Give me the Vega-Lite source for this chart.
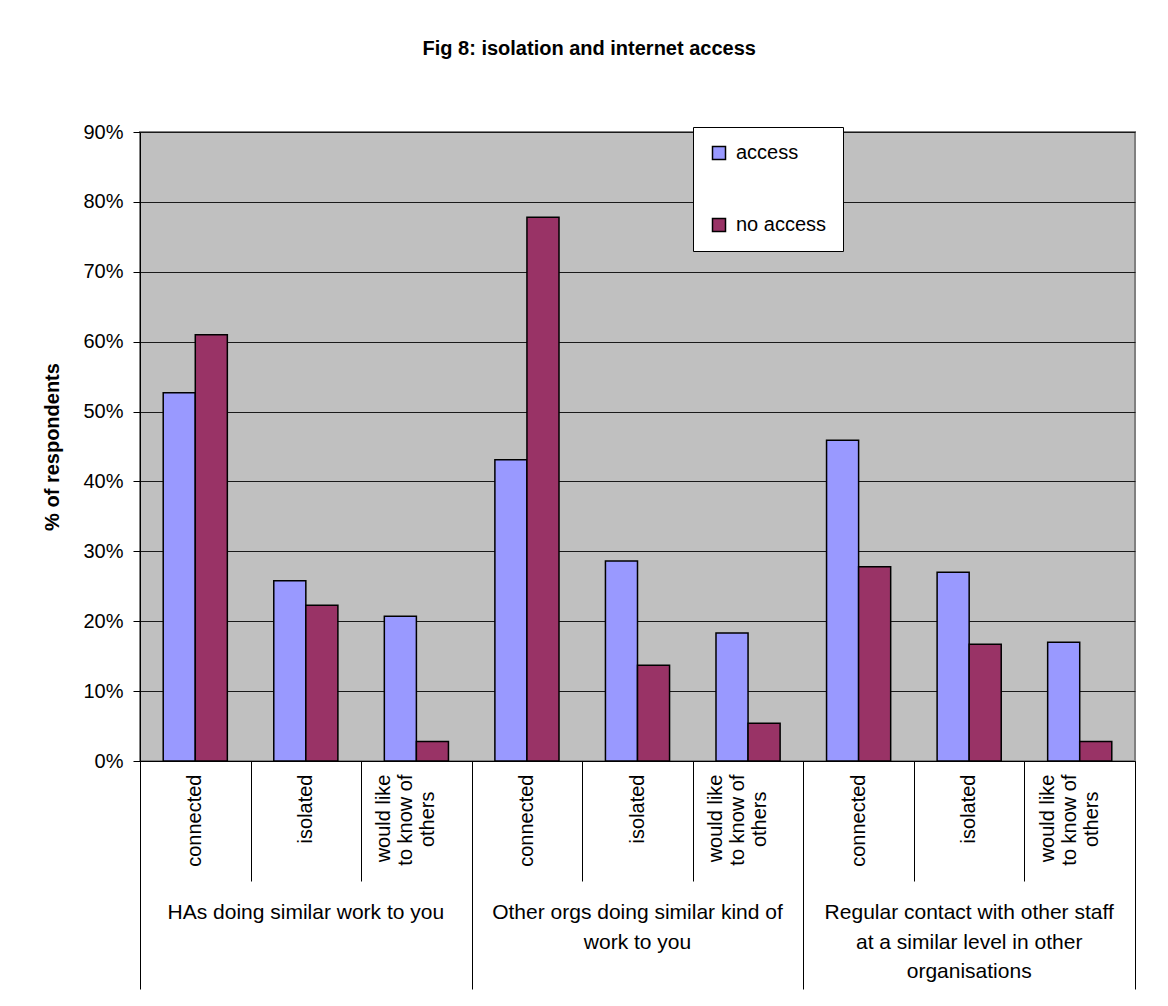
{
  "$schema": "https://vega.github.io/schema/vega-lite/v6.json",
  "autosize": {"type": "none"},
  "width": 995,
  "height": 629,
  "padding": {"left": 140, "top": 132, "right": 33, "bottom": 245},
  "background": "white",
  "title": {
    "text": "Fig 8: isolation and internet access",
    "font": "Liberation Sans",
    "fontSize": 20,
    "fontWeight": "bold",
    "color": "black",
    "anchor": "middle",
    "frame": "bounds",
    "offset": 63
  },
  "config": {
    "font": "Liberation Sans",
    "view": {"fill": "#C0C0C0", "stroke": "#808080", "strokeWidth": 2}
  },
  "data": {
    "values": [
      {"group": "HAs doing similar work to you", "cat": "A connected", "series": "access", "value": 0.527},
      {"group": "HAs doing similar work to you", "cat": "A connected", "series": "no access", "value": 0.61},
      {"group": "HAs doing similar work to you", "cat": "A isolated", "series": "access", "value": 0.258},
      {"group": "HAs doing similar work to you", "cat": "A isolated", "series": "no access", "value": 0.223},
      {"group": "HAs doing similar work to you", "cat": "A would", "series": "access", "value": 0.207},
      {"group": "HAs doing similar work to you", "cat": "A would", "series": "no access", "value": 0.028},
      {"group": "Other orgs doing similar kind of work to you", "cat": "B connected", "series": "access", "value": 0.431},
      {"group": "Other orgs doing similar kind of work to you", "cat": "B connected", "series": "no access", "value": 0.778},
      {"group": "Other orgs doing similar kind of work to you", "cat": "B isolated", "series": "access", "value": 0.286},
      {"group": "Other orgs doing similar kind of work to you", "cat": "B isolated", "series": "no access", "value": 0.137},
      {"group": "Other orgs doing similar kind of work to you", "cat": "B would", "series": "access", "value": 0.183},
      {"group": "Other orgs doing similar kind of work to you", "cat": "B would", "series": "no access", "value": 0.054},
      {"group": "Regular contact with other staff at a similar level in other organisations", "cat": "C connected", "series": "access", "value": 0.459},
      {"group": "Regular contact with other staff at a similar level in other organisations", "cat": "C connected", "series": "no access", "value": 0.278},
      {"group": "Regular contact with other staff at a similar level in other organisations", "cat": "C isolated", "series": "access", "value": 0.27},
      {"group": "Regular contact with other staff at a similar level in other organisations", "cat": "C isolated", "series": "no access", "value": 0.167},
      {"group": "Regular contact with other staff at a similar level in other organisations", "cat": "C would", "series": "access", "value": 0.17},
      {"group": "Regular contact with other staff at a similar level in other organisations", "cat": "C would", "series": "no access", "value": 0.028}
    ]
  },
  "layer": [
    {
      "mark": {"type": "bar", "stroke": "black", "strokeWidth": 1.5},
      "encoding": {
        "x": {
          "field": "cat",
          "type": "nominal",
          "sort": null,
          "scale": {"paddingInner": 0.42, "paddingOuter": 0.21},
          "axis": {
            "orient": "bottom",
            "title": null,
            "domainColor": "black",
            "ticks": false,
            "values": ["A connected", "A isolated", "B connected", "B isolated", "C connected", "C isolated"],
            "labelAngle": 270,
            "labelAlign": "right",
            "labelBaseline": "middle",
            "labelPadding": 13,
            "labelFontSize": 20,
            "labelColor": "black",
            "labelLimit": 300,
            "labelOverlap": false,
            "labelExpr": "slice(datum.value, 2)"
          }
        },
        "xOffset": {"field": "series", "type": "nominal"},
        "y": {
          "field": "value",
          "type": "quantitative",
          "scale": {"domain": [0, 0.9], "nice": false},
          "axis": {
            "title": "% of respondents",
            "titleFontSize": 20,
            "titleFontWeight": "bold",
            "titleColor": "black",
            "titlePadding": 20,
            "values": [0, 0.1, 0.2, 0.3, 0.4, 0.5, 0.6, 0.7, 0.8, 0.9],
            "format": ".0%",
            "labelFontSize": 20,
            "labelColor": "black",
            "labelPadding": 10,
            "tickSize": 7,
            "tickColor": "black",
            "domainColor": "black",
            "gridColor": "#1a1a1a"
          }
        },
        "color": {
          "field": "series",
          "type": "nominal",
          "scale": {"domain": ["access", "no access"], "range": ["#9999FF", "#993366"]},
          "legend": {
            "title": null,
            "orient": "none",
            "legendX": 553,
            "legendY": -5,
            "fillColor": "white",
            "strokeColor": "black",
            "padding": 16,
            "rowPadding": 52,
            "symbolType": "square",
            "symbolSize": 169,
            "symbolStrokeColor": "black",
            "labelFontSize": 20,
            "labelColor": "black",
            "labelOffset": 7
          }
        }
      }
    },
    {
      "mark": {"type": "rule", "opacity": 0},
      "encoding": {
        "x": {
          "field": "cat", "type": "nominal", "sort": null,
          "axis": {
            "orient": "bottom", "title": null, "domain": false, "ticks": false,
            "values": ["A would", "B would", "C would"],
            "labelAngle": 270, "labelAlign": "right", "labelBaseline": "middle",
            "labelPadding": 13, "labelOffset": -32,
            "labelFontSize": 20, "labelColor": "black", "labelLimit": 300, "labelOverlap": false,
            "labelExpr": "'would like'"
          }
        }
      }
    },
    {
      "mark": {"type": "rule", "opacity": 0},
      "encoding": {
        "x": {
          "field": "cat", "type": "nominal", "sort": null,
          "axis": {
            "orient": "bottom", "title": null, "domain": false, "ticks": false,
            "values": ["A would", "B would", "C would"],
            "labelAngle": 270, "labelAlign": "right", "labelBaseline": "middle",
            "labelPadding": 13, "labelOffset": -10,
            "labelFontSize": 20, "labelColor": "black", "labelLimit": 300, "labelOverlap": false,
            "labelExpr": "'to know of'"
          }
        }
      }
    },
    {
      "mark": {"type": "rule", "opacity": 0},
      "encoding": {
        "x": {
          "field": "cat", "type": "nominal", "sort": null,
          "axis": {
            "orient": "bottom", "title": null, "domain": false, "ticks": false,
            "values": ["A would", "B would", "C would"],
            "labelAngle": 270, "labelAlign": "right", "labelBaseline": "middle",
            "labelPadding": 30, "labelOffset": 12,
            "labelFontSize": 20, "labelColor": "black", "labelLimit": 300, "labelOverlap": false,
            "labelExpr": "'others'"
          }
        }
      }
    },
    {
      "mark": {"type": "rule", "opacity": 0},
      "encoding": {
        "x": {
          "field": "cat", "type": "nominal", "sort": null,
          "axis": {
            "orient": "bottom", "title": null, "domain": false, "labels": false,
            "tickColor": "black", "tickOffset": 55.28,
            "tickSize": {"condition": {"test": "indexof(datum.value, 'would') >= 0", "value": 228}, "value": 120}
          }
        }
      }
    },
    {
      "mark": {"type": "rule", "opacity": 0},
      "encoding": {
        "x": {
          "field": "cat", "type": "nominal", "sort": null,
          "axis": {
            "orient": "bottom", "title": null, "domain": false, "labels": false,
            "values": ["A connected"],
            "tickColor": "black", "tickOffset": -55.28, "tickSize": 228
          }
        }
      }
    },
    {
      "mark": {"type": "rule", "opacity": 0},
      "encoding": {
        "x": {
          "field": "cat", "type": "nominal", "sort": null,
          "axis": {
            "orient": "bottom", "title": null, "domain": false, "ticks": false,
            "values": ["A isolated", "B isolated", "C isolated"],
            "labelAngle": 0, "labelAlign": "center", "labelBaseline": "top",
            "labelPadding": 140,
            "labelFontSize": 21, "labelColor": "black", "labelLimit": 400, "labelOverlap": false,
            "labelExpr": "datum.value == 'A isolated' ? 'HAs doing similar work to you' : datum.value == 'B isolated' ? 'Other orgs doing similar kind of' : 'Regular contact with other staff'"
          }
        }
      }
    },
    {
      "mark": {"type": "rule", "opacity": 0},
      "encoding": {
        "x": {
          "field": "cat", "type": "nominal", "sort": null,
          "axis": {
            "orient": "bottom", "title": null, "domain": false, "ticks": false,
            "values": ["B isolated", "C isolated"],
            "labelAngle": 0, "labelAlign": "center", "labelBaseline": "top",
            "labelPadding": 170,
            "labelFontSize": 21, "labelColor": "black", "labelLimit": 400, "labelOverlap": false,
            "labelExpr": "datum.value == 'B isolated' ? 'work to you' : 'at a similar level in other'"
          }
        }
      }
    },
    {
      "mark": {"type": "rule", "opacity": 0},
      "encoding": {
        "x": {
          "field": "cat", "type": "nominal", "sort": null,
          "axis": {
            "orient": "bottom", "title": null, "domain": false, "ticks": false,
            "values": ["C isolated"],
            "labelAngle": 0, "labelAlign": "center", "labelBaseline": "top",
            "labelPadding": 199,
            "labelFontSize": 21, "labelColor": "black", "labelLimit": 400, "labelOverlap": false,
            "labelExpr": "'organisations'"
          }
        }
      }
    }
  ],
  "resolve": {"axis": {"x": "independent"}}
}
